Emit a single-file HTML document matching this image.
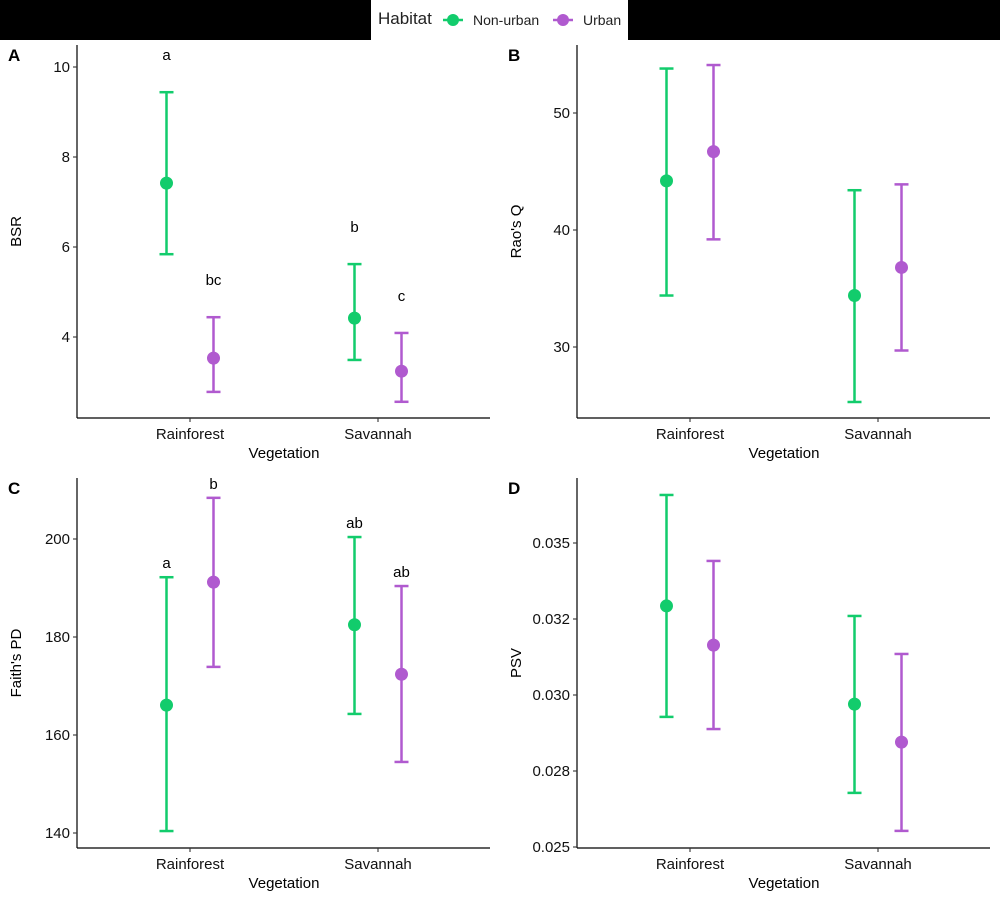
<!DOCTYPE html>
<html><head><meta charset="utf-8"><style>
body{margin:0;background:#fff;font-family:"Liberation Sans",Arial,sans-serif}
text{font-family:"Liberation Sans",Arial,sans-serif}
</style></head><body>
<svg id="c" width="1000" height="900" xmlns="http://www.w3.org/2000/svg">
<rect x="0" y="0" width="1000" height="40" fill="#000"/>
<g>
<rect x="371" y="0" width="257" height="40" fill="#fff"/>
<text x="378" y="24" font-size="17" fill="#222">Habitat</text>
<g><line x1="443" y1="20" x2="463" y2="20" stroke="#12CC6C" stroke-width="2.5"/><circle cx="453" cy="20" r="6" fill="#12CC6C"/><text x="473" y="25" font-size="14" fill="#222">Non-urban</text></g>
<g><line x1="553" y1="20" x2="573" y2="20" stroke="#B05ACF" stroke-width="2.5"/><circle cx="563" cy="20" r="6" fill="#B05ACF"/><text x="583" y="25" font-size="14" fill="#222">Urban</text></g>
</g>
</svg>
<script>
const categories=["Rainforest","Savannah"];
const habitats=["Non-urban","Urban"];
const colors=["#12CC6C","#B05ACF"];
// panel A BSR
const bsrMean=[[7.42,4.42],[3.53,3.24]];
const bsrLo=[[5.84,3.49],[2.78,2.56]];
const bsrHi=[[9.44,5.62],[4.44,4.09]];
const bsrTicks=[4,6,8,10];
const bsrLetters=[["a","b"],["bc","c"]];
// panel B Rao's Q
const raoMean=[[44.2,34.4],[46.7,36.8]];
const raoLo=[[34.4,25.3],[39.2,29.7]];
const raoHi=[[53.8,43.4],[54.1,43.9]];
const raoTicks=[30,40,50];
// panel C Faith's PD
const pdMean=[[166.1,182.5],[191.2,172.4]];
const pdLo=[[140.4,164.3],[173.9,154.5]];
const pdHi=[[192.2,200.4],[208.4,190.4]];
const pdTicks=[140,160,180,200];
const pdLetters=[["a","ab"],["b","ab"]];
// panel D PSV
const psvMean=[[0.03293,0.0297],[0.03164,0.02845]];
const psvLo=[[0.02928,0.02678],[0.02888,0.02553]];
const psvHi=[[0.03658,0.0326],[0.03441,0.03135]];
const psvTicks=[0.025,0.0275,0.03,0.0325,0.035];
const psvTickLabels=["0.025","0.028","0.030","0.032","0.035"];

const svg=document.getElementById('c');
const NS="http://www.w3.org/2000/svg";
function el(t,a,p){const e=document.createElementNS(NS,t);for(const k in a)e.setAttribute(k,a[k]);(p||svg).appendChild(e);return e;}

function panel(o){
  const g=el('g',{});
  
  
  const y=v=>o.y0-(v-o.v0)*o.k;
  const cx=i=>o.x0+113+i*188;
  el('line',{x1:o.x0,y1:o.top,x2:o.x0,y2:o.bot,stroke:'#000','stroke-width':1.2},g);
  el('line',{x1:o.x0,y1:o.bot,x2:o.x0+413,y2:o.bot,stroke:'#000','stroke-width':1.2},g);
  const pl=el('text',{x:o.x0-69,y:o.top+16,'font-size':17,'font-weight':'bold',fill:'#000'},g);
  pl.textContent=o.letter;
  
  
  o.ticks.forEach((t,i)=>{
    el('line',{x1:o.x0-4,y1:y(t),x2:o.x0,y2:y(t),stroke:'#333','stroke-width':1.1},g);
    const tx=el('text',{x:o.x0-7,y:y(t)+5,'font-size':15,'text-anchor':'end',fill:'#111'},g);
    tx.textContent=o.labels?o.labels[i]:t;
    
    
  });
  categories.forEach((c,i)=>{
    el('line',{x1:cx(i),y1:o.bot,x2:cx(i),y2:o.bot+4,stroke:'#333','stroke-width':1.1},g);
    const tx=el('text',{x:cx(i),y:o.bot+21,'font-size':15,'text-anchor':'middle',fill:'#111'},g);
    tx.textContent=c;
    
    
  });
  const xt=el('text',{x:o.x0+207,y:o.bot+40,'font-size':15,'text-anchor':'middle',fill:'#000'},g);
  xt.textContent='Vegetation';
  
  
  const yt=el('text',{x:0,y:0,'font-size':15,'text-anchor':'middle',fill:'#000',transform:`translate(${o.x0-56},${(o.top+o.bot)/2}) rotate(-90)`},g);
  yt.textContent=o.ytitle;
  
  
  habitats.forEach((h,s)=>{
    categories.forEach((c,i)=>{
      const x=cx(i)+(s?23.5:-23.5);
      const eg=el('g',{},g);
      
      
      const col=colors[s];
      const lo=y(o.lo[s][i]),hi=y(o.hi[s][i]);
      el('line',{x1:x,y1:lo,x2:x,y2:hi,stroke:col,'stroke-width':2.5},eg);
      el('line',{x1:x-7,y1:lo,x2:x+7,y2:lo,stroke:col,'stroke-width':2.5},eg);
      el('line',{x1:x-7,y1:hi,x2:x+7,y2:hi,stroke:col,'stroke-width':2.5},eg);
      el('circle',{cx:x,cy:y(o.mean[s][i]),r:6.5,fill:col},eg);
      if(o.letters){
        const lt=el('text',{x:x,y:hi-o.letterOff,'font-size':15,'text-anchor':'middle',fill:'#000'},g);
        lt.textContent=o.letters[s][i];
        
        
      }
    });
  });
}
panel({letter:'A',x0:77,top:45,bot:418,y0:337,v0:4,k:45,ticks:bsrTicks,mean:bsrMean,lo:bsrLo,hi:bsrHi,letters:bsrLetters,letterOff:32,ytitle:'BSR'});
panel({letter:'B',x0:577,top:45,bot:418,y0:230,v0:40,k:11.7,ticks:raoTicks,mean:raoMean,lo:raoLo,hi:raoHi,ytitle:"Rao's Q"});
panel({letter:'C',x0:77,top:478,bot:848,y0:637,v0:180,k:4.9,ticks:pdTicks,mean:pdMean,lo:pdLo,hi:pdHi,letters:pdLetters,letterOff:9,ytitle:"Faith's PD"});
panel({letter:'D',x0:577,top:478,bot:848,y0:695,v0:0.03,k:76/0.0025,ticks:psvTicks,labels:psvTickLabels,mean:psvMean,lo:psvLo,hi:psvHi,ytitle:'PSV'});
</script>
</body></html>
